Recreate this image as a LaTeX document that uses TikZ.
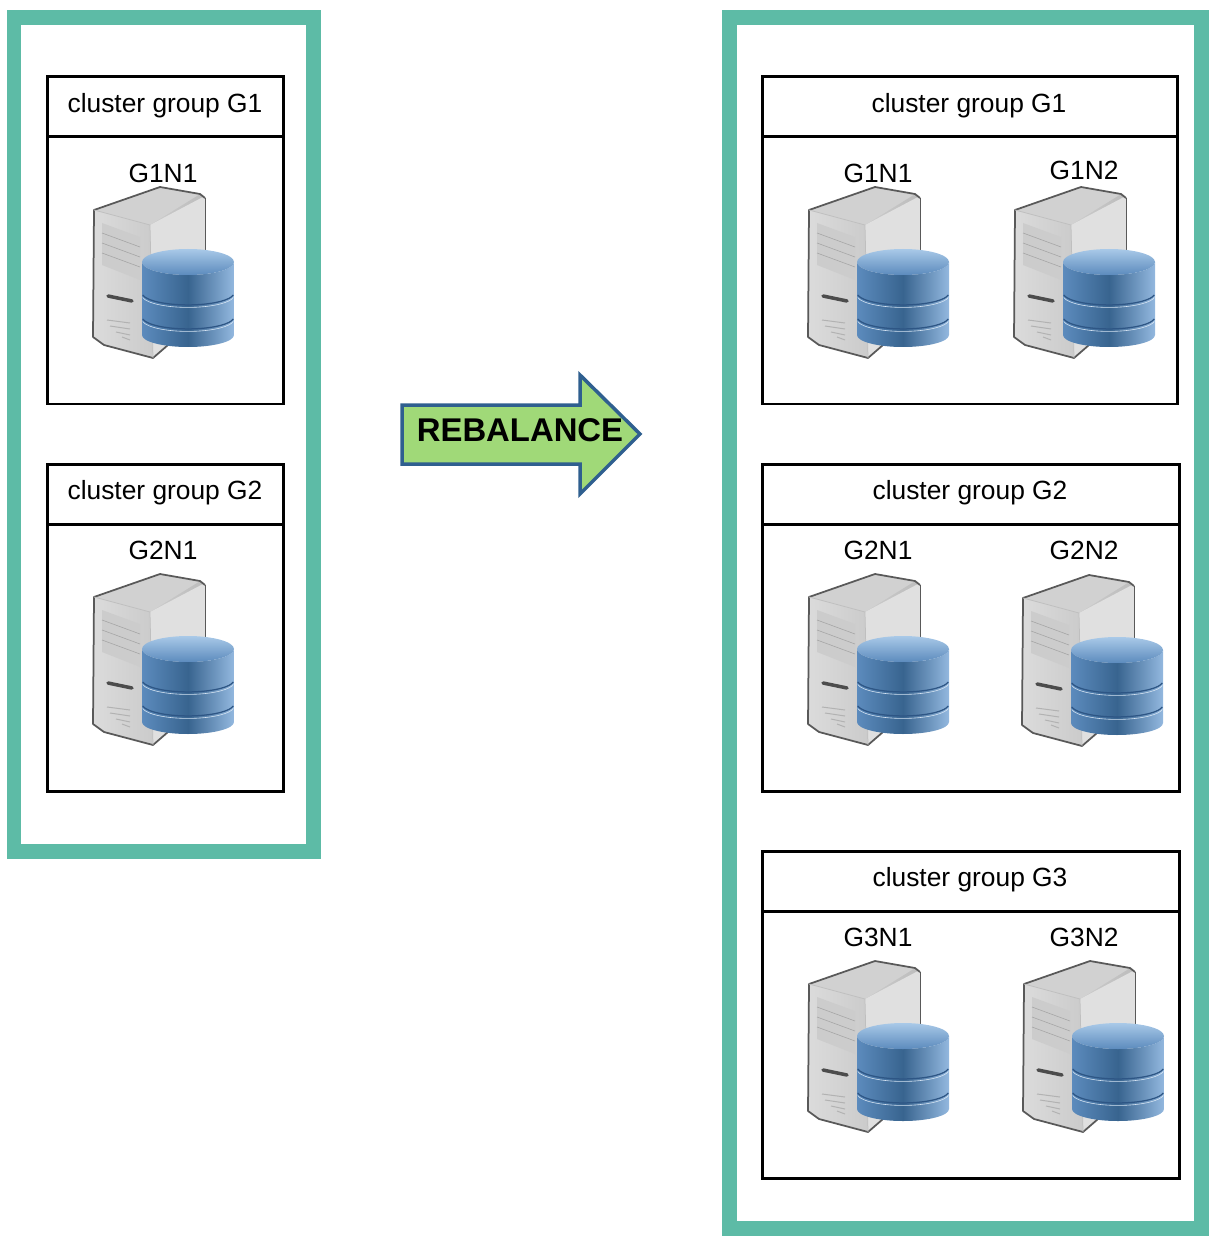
\documentclass[tikz,border=0pt]{standalone}
\usepackage{fontspec}
\setmainfont{Liberation Sans}
\definecolor{framegreen}{HTML}{5DBBA6}
\definecolor{arrowgreen}{HTML}{A0D978}
\definecolor{arrowblue}{HTML}{2F5F8F}
\definecolor{dbmid}{HTML}{5C8BBD}
\definecolor{dbdark}{HTML}{38648F}
\definecolor{dblight}{HTML}{93B8DF}
\definecolor{dbline}{HTML}{2E5685}
\definecolor{dbtop}{HTML}{A9C9E8}
\tikzset{
    frame/.style={draw=framegreen, line width=0.3cm},
    groupbox/.style={draw=black, line width=0.06cm},
    grouptitle/.style={font=\fontsize{15}{18}\selectfont, inner sep=0pt},
    nodename/.style={font=\fontsize{15}{18}\selectfont, inner sep=0pt},
    dbserver/.pic={
        % tower
        \shade[left color=black!14, right color=black!26]
            (0,0) -- (66,-23) -- (106,-16) -- (111,-12) -- (111,130) -- (74,135) -- (59,148)
            -- (10,135) -- (-1,127) -- cycle;
        \fill[black!12] (56,15) -- (109,-13) -- (111,-12) -- (111,130) -- (74,135) -- (59,148) -- cycle;
        \fill[black!18] (0,0) -- (66,-23) -- (106,-16) -- (56,15) -- cycle;
        \draw[black!65, line width=0.035cm, line join=round] (111,-12) -- (106,-16) -- (66,-23) -- (0,0)
            -- (-1,127) -- (10,135) -- (59,148) -- (74,135);
        \draw[black!65, line width=0.015cm] (111,-12) -- (111,60);
        \draw[black!25, line width=0.015cm] (0,0) -- (56,15) -- (59,148);
        % front panel
        \fill[black!20] (8,13) -- (46,27) -- (46,70) -- (8,55) -- cycle;
        \foreach \y in {10,20,30} {
            \draw[black!35, line width=0.012cm] (8,13+\y) -- (46,27+\y);
        }
        \draw[black!70, line width=0.07cm, line cap=round] (14,86) -- (38,91);
        \foreach \y/\w in {110/23,116/20,122/14,127/8} {
            \draw[black!30, line width=0.02cm] (36-\w,\y) -- (36,\y+3);
        }
        % database
        \shade[left color=dbmid, right color=dblight, middle color=dbdark]
            (48,52) -- (48,125) arc[start angle=180, end angle=0, x radius=46, y radius=12]
            -- (140,52) arc[start angle=0, end angle=180, x radius=46, y radius=13] -- cycle;
        \foreach \y in {83,107} {
            \draw[dbline, line width=0.025cm] (48.7,\y+2) arc[start angle=170, end angle=10, x radius=46, y radius=12];
            \draw[white!60!dblight, line width=0.012cm] (48.7,\y+4.5) arc[start angle=170, end angle=10, x radius=46, y radius=12];
        }
        \shade[top color=dbtop, bottom color=dbmid] (94,52) ellipse[x radius=46, y radius=13];
    }
}
\begin{document}
\begin{tikzpicture}[x=0.02cm, y=-0.02cm]
    \useasboundingbox (0,0) rectangle (1209,1236);

    % Outer frames
    \draw[frame] (14,18) rectangle (313,851);
    \draw[frame] (729,18) rectangle (1201.5,1228);

    % Cluster groups: left, right, top
    \foreach \l/\r/\t in {47/283/77, 47/283/464, 762/1177/77, 762/1179/464, 762/1179/851} {
        \draw[groupbox] (\l,\t) rectangle (\r,\t+327);
        \draw[groupbox] (\l,\t+60) -- (\r,\t+60);
    }
    \node[grouptitle] (LT1) at (165,106) {cluster group G1};
    \node[grouptitle] (LT2) at (165,493) {cluster group G2};
    \node[grouptitle] (RT1) at (969,106) {cluster group G1};
    \node[grouptitle] (RT2) at (970,493) {cluster group G2};
    \node[grouptitle] (RT3) at (970,880) {cluster group G3};

    % Servers with database
    \foreach \name/\x/\y/\lx/\ly in {G1N1/94/210/163/173, G2N1/94/597/163/550} {
        \pic at (\x,\y) {dbserver};
        \node[nodename] (L\name) at (\lx,\ly) {\name};
    }
    \foreach \name/\x/\y/\lx/\ly in {G1N1/809/210/878/173, G1N2/1015/210/1084/170, G2N1/809/597/878/550, G2N2/1023/598/1084/550, G3N1/809/984/878/937, G3N2/1024/984/1084/937} {
        \pic at (\x,\y) {dbserver};
        \node[nodename] (R\name) at (\lx,\ly) {\name};
    }

    % Arrow
    \draw[fill=arrowgreen, draw=arrowblue, line width=0.07cm] (402,405) -- (580,405) -- (580,375)
        -- (640,434) -- (580,494) -- (580,464) -- (402,464) -- cycle;
    \node[font=\fontsize{18.7}{22}\bfseries, inner sep=0pt] (rebalance) at (520,430) {REBALANCE};
\end{tikzpicture}
\end{document}
